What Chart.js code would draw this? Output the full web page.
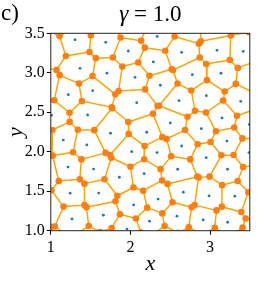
<!DOCTYPE html>
<html>
<head>
<meta charset="utf-8">
<script src="https://cdn.jsdelivr.net/npm/chart.js@4.4.0/dist/chart.umd.min.js"></script>
<style>
  html, body { margin: 0; padding: 0; background: #fff; }
  #wrap { width: 272px; height: 293px; }
</style>
</head>
<body>
<div id="wrap"><canvas id="voronoiChart" width="272" height="293"></canvas></div>
<script>
// generator points (blue dots)
const pointsX = [1.304, 1.690, 1.974, 2.336, 2.644, 3.088, 3.418,
                 1.367, 1.705, 2.058, 2.288, 2.778, 3.138,
                 1.220, 1.526, 2.079, 2.376, 2.611, 2.954, 3.386,
                 1.008, 1.463, 1.750, 2.205, 2.501, 2.891, 3.151, 3.495,
                 1.157, 1.453, 2.016, 2.335, 2.644, 3.212, 2.952, 3.490,
                 1.216, 1.536, 1.861, 2.172, 2.594, 3.220,
                 1.243, 1.602, 2.041, 2.348, 2.665, 2.988, 3.312,
                 1.266, 1.660, 1.957, 2.240, 2.585, 2.914, 3.222];
const pointsY = [3.419, 3.386, 3.276, 3.460, 3.259, 3.285, 3.272,
                 3.057, 2.995, 2.943, 3.137, 2.976, 2.994,
                 2.723, 2.773, 2.621, 2.842, 2.647, 2.710, 2.639,
                 2.463, 2.466, 2.234, 2.247, 2.365, 2.292, 2.428, 2.345,
                 2.148, 2.086, 2.001, 1.990, 2.073, 2.135, 1.925, 1.990,
                 1.806, 1.780, 1.677, 1.722, 1.778, 1.778,
                 1.475, 1.476, 1.327, 1.400, 1.487, 1.441, 1.437,
                 1.149, 1.196, 1.020, 1.120, 1.184, 1.137, 1.107];

// points just outside the window, they shape the cells cut by the frame
const ghostX = [0.78, 0.976, 0.91, 0.72, 0.88, 0.916, 0.974, 0.80,
                1.15, 1.50, 2.02, 2.45, 2.74, 3.03, 3.35, 3.72,
                3.75, 3.536, 3.78, 3.80, 3.542, 3.583, 3.60,
                1.02, 1.47, 1.78, 2.12, 2.42, 2.76, 3.07, 3.40, 3.75];
const ghostY = [3.62, 3.316, 2.79, 2.45, 2.15, 1.733, 1.277, 0.95,
                3.66, 3.68, 3.58, 3.75, 3.58, 3.58, 3.72, 3.62,
                3.25, 2.945, 2.60, 2.20, 1.653, 1.34, 0.98,
                0.82, 0.83, 0.84, 0.80, 0.86, 0.84, 0.86, 0.84, 0.75];

// far frame so every ridge near the window is closed
const ringX = [0.3, 0.8, 1.3, 1.8, 2.3, 2.8, 3.3, 3.8, 4.2,
               0.3, 0.8, 1.3, 1.8, 2.3, 2.8, 3.3, 3.8, 4.2,
               0.3, 0.3, 0.3, 0.3, 0.3, 0.3, 0.3,
               4.2, 4.2, 4.2, 4.2, 4.2, 4.2, 4.2];
const ringY = [0.3, 0.3, 0.3, 0.3, 0.3, 0.3, 0.3, 0.3, 0.3,
               4.2, 4.2, 4.2, 4.2, 4.2, 4.2, 4.2, 4.2, 4.2,
               0.8, 1.3, 1.8, 2.3, 2.8, 3.3, 3.8,
               0.8, 1.3, 1.8, 2.3, 2.8, 3.3, 3.8];

const xTicks = [1, 2, 3];
const yTicks = [1.0, 1.5, 2.0, 2.5, 3.0, 3.5];

const SERIF = "'Liberation Serif', 'DejaVu Serif', serif";

// Voronoi from the Delaunay triangles (brute force, the set is small)
function voronoi(px, py) {
  const n = px.length;
  const centers = [];
  const edgeTris = new Map();
  for (let i = 0; i < n; i++) {
    for (let j = i + 1; j < n; j++) {
      for (let k = j + 1; k < n; k++) {
        const ax = px[i], ay = py[i], bx = px[j], by = py[j], cx = px[k], cy = py[k];
        const d = 2 * (ax * (by - cy) + bx * (cy - ay) + cx * (ay - by));
        if (Math.abs(d) < 1e-12) continue;
        const a2 = ax * ax + ay * ay, b2 = bx * bx + by * by, c2 = cx * cx + cy * cy;
        const ux = (a2 * (by - cy) + b2 * (cy - ay) + c2 * (ay - by)) / d;
        const uy = (a2 * (cx - bx) + b2 * (ax - cx) + c2 * (bx - ax)) / d;
        const r2 = (ax - ux) ** 2 + (ay - uy) ** 2;
        let empty = true;
        for (let m = 0; m < n; m++) {
          if (m === i || m === j || m === k) continue;
          if ((px[m] - ux) ** 2 + (py[m] - uy) ** 2 < r2 - 1e-10) { empty = false; break; }
        }
        if (!empty) continue;
        const t = centers.length;
        centers.push({ x: ux, y: uy });
        [[i, j], [j, k], [i, k]].forEach(([a, b]) => {
          const key = a * 1000 + b;
          if (!edgeTris.has(key)) edgeTris.set(key, []);
          edgeTris.get(key).push(t);
        });
      }
    }
  }
  const segments = [];
  edgeTris.forEach(ts => {
    for (let a = 0; a < ts.length; a++) {
      for (let b = a + 1; b < ts.length; b++) {
        segments.push(centers[ts[a]], centers[ts[b]], { x: null, y: null });
      }
    }
  });
  return { centers, segments };
}

const vor = voronoi(pointsX.concat(ghostX, ringX), pointsY.concat(ghostY, ringY));
const generators = pointsX.map((x, i) => ({ x: x, y: pointsY[i] }));

// frame, panel letter, title and axis labels
const textPlugin = {
  id: 'textPlugin',
  afterDraw(chart) {
    const c = chart.ctx;
    const a = chart.chartArea;
    c.save();
    c.strokeStyle = '#222';
    c.lineWidth = 1;
    c.strokeRect(a.left, a.top, a.right - a.left, a.bottom - a.top);
    c.fillStyle = '#000';
    c.textBaseline = 'alphabetic';
    c.textAlign = 'left';
    c.font = '23px ' + SERIF;
    c.fillText('c)', 1, 19.5);

    c.font = 'italic 23px ' + SERIF;
    const gw = c.measureText('γ').width;
    c.font = '23px ' + SERIF;
    const rest = ' = 1.0';
    const rw = c.measureText(rest).width;
    const x0 = (a.left + a.right) / 2 - (gw + rw) / 2;
    c.font = 'italic 23px ' + SERIF;
    c.fillText('γ', x0, 20.7);
    c.font = '23px ' + SERIF;
    c.fillText(rest, x0 + gw, 20.7);

    c.font = 'italic 22px ' + SERIF;
    c.textAlign = 'center';
    c.fillText('x', (a.left + a.right) / 2, 270);
    c.translate(22, (a.top + a.bottom) / 2);
    c.rotate(-Math.PI / 2);
    c.fillText('y', 0, 0);
    c.restore();
  }
};

const ctx = document.getElementById('voronoiChart').getContext('2d');

const voronoiChart = new Chart(ctx, {
  type: 'scatter',
  data: {
    datasets: [
      {
        label: 'vertices',
        data: vor.centers,
        pointRadius: 3.3,
        pointBackgroundColor: '#ff7f0e',
        pointBorderWidth: 0,
        clip: 0,
        order: 0
      },
      {
        label: 'points',
        data: generators,
        pointRadius: 1.4,
        pointBackgroundColor: '#1f77b4',
        pointBorderWidth: 0,
        clip: 0,
        order: 1
      },
      {
        label: 'ridges',
        data: vor.segments,
        showLine: true,
        spanGaps: false,
        pointRadius: 0,
        borderColor: '#ffa500',
        borderWidth: 1.5,
        clip: 0,
        order: 2
      }
    ]
  },
  options: {
    responsive: false,
    devicePixelRatio: 1,
    animation: false,
    events: [],
    layout: { padding: { left: 0, right: 22.2, top: 33.3, bottom: 0 } },
    plugins: { legend: { display: false }, tooltip: { enabled: false } },
    scales: {
      x: {
        type: 'linear',
        min: 1,
        max: 3.5,
        afterBuildTicks: scale => { scale.ticks = xTicks.map(v => ({ value: v })); },
        afterFit: scale => { scale.height = 62.3; },
        border: { display: false },
        grid: { drawOnChartArea: false, drawTicks: true, tickLength: 4, color: '#000', tickWidth: 1 },
        ticks: {
          padding: 3,
          color: '#000',
          font: { family: SERIF, size: 16 },
          maxRotation: 0,
          callback: v => String(v)
        }
      },
      y: {
        type: 'linear',
        min: 1,
        max: 3.5,
        afterBuildTicks: scale => { scale.ticks = yTicks.map(v => ({ value: v })); },
        afterFit: scale => { scale.width = 50.8; },
        border: { display: false },
        grid: { drawOnChartArea: false, drawTicks: true, tickLength: 4, color: '#000', tickWidth: 1 },
        ticks: {
          padding: 2,
          color: '#000',
          font: { family: SERIF, size: 16 },
          callback: v => Number(v).toFixed(1)
        }
      }
    }
  },
  plugins: [textPlugin]
});
</script>
</body>
</html>
